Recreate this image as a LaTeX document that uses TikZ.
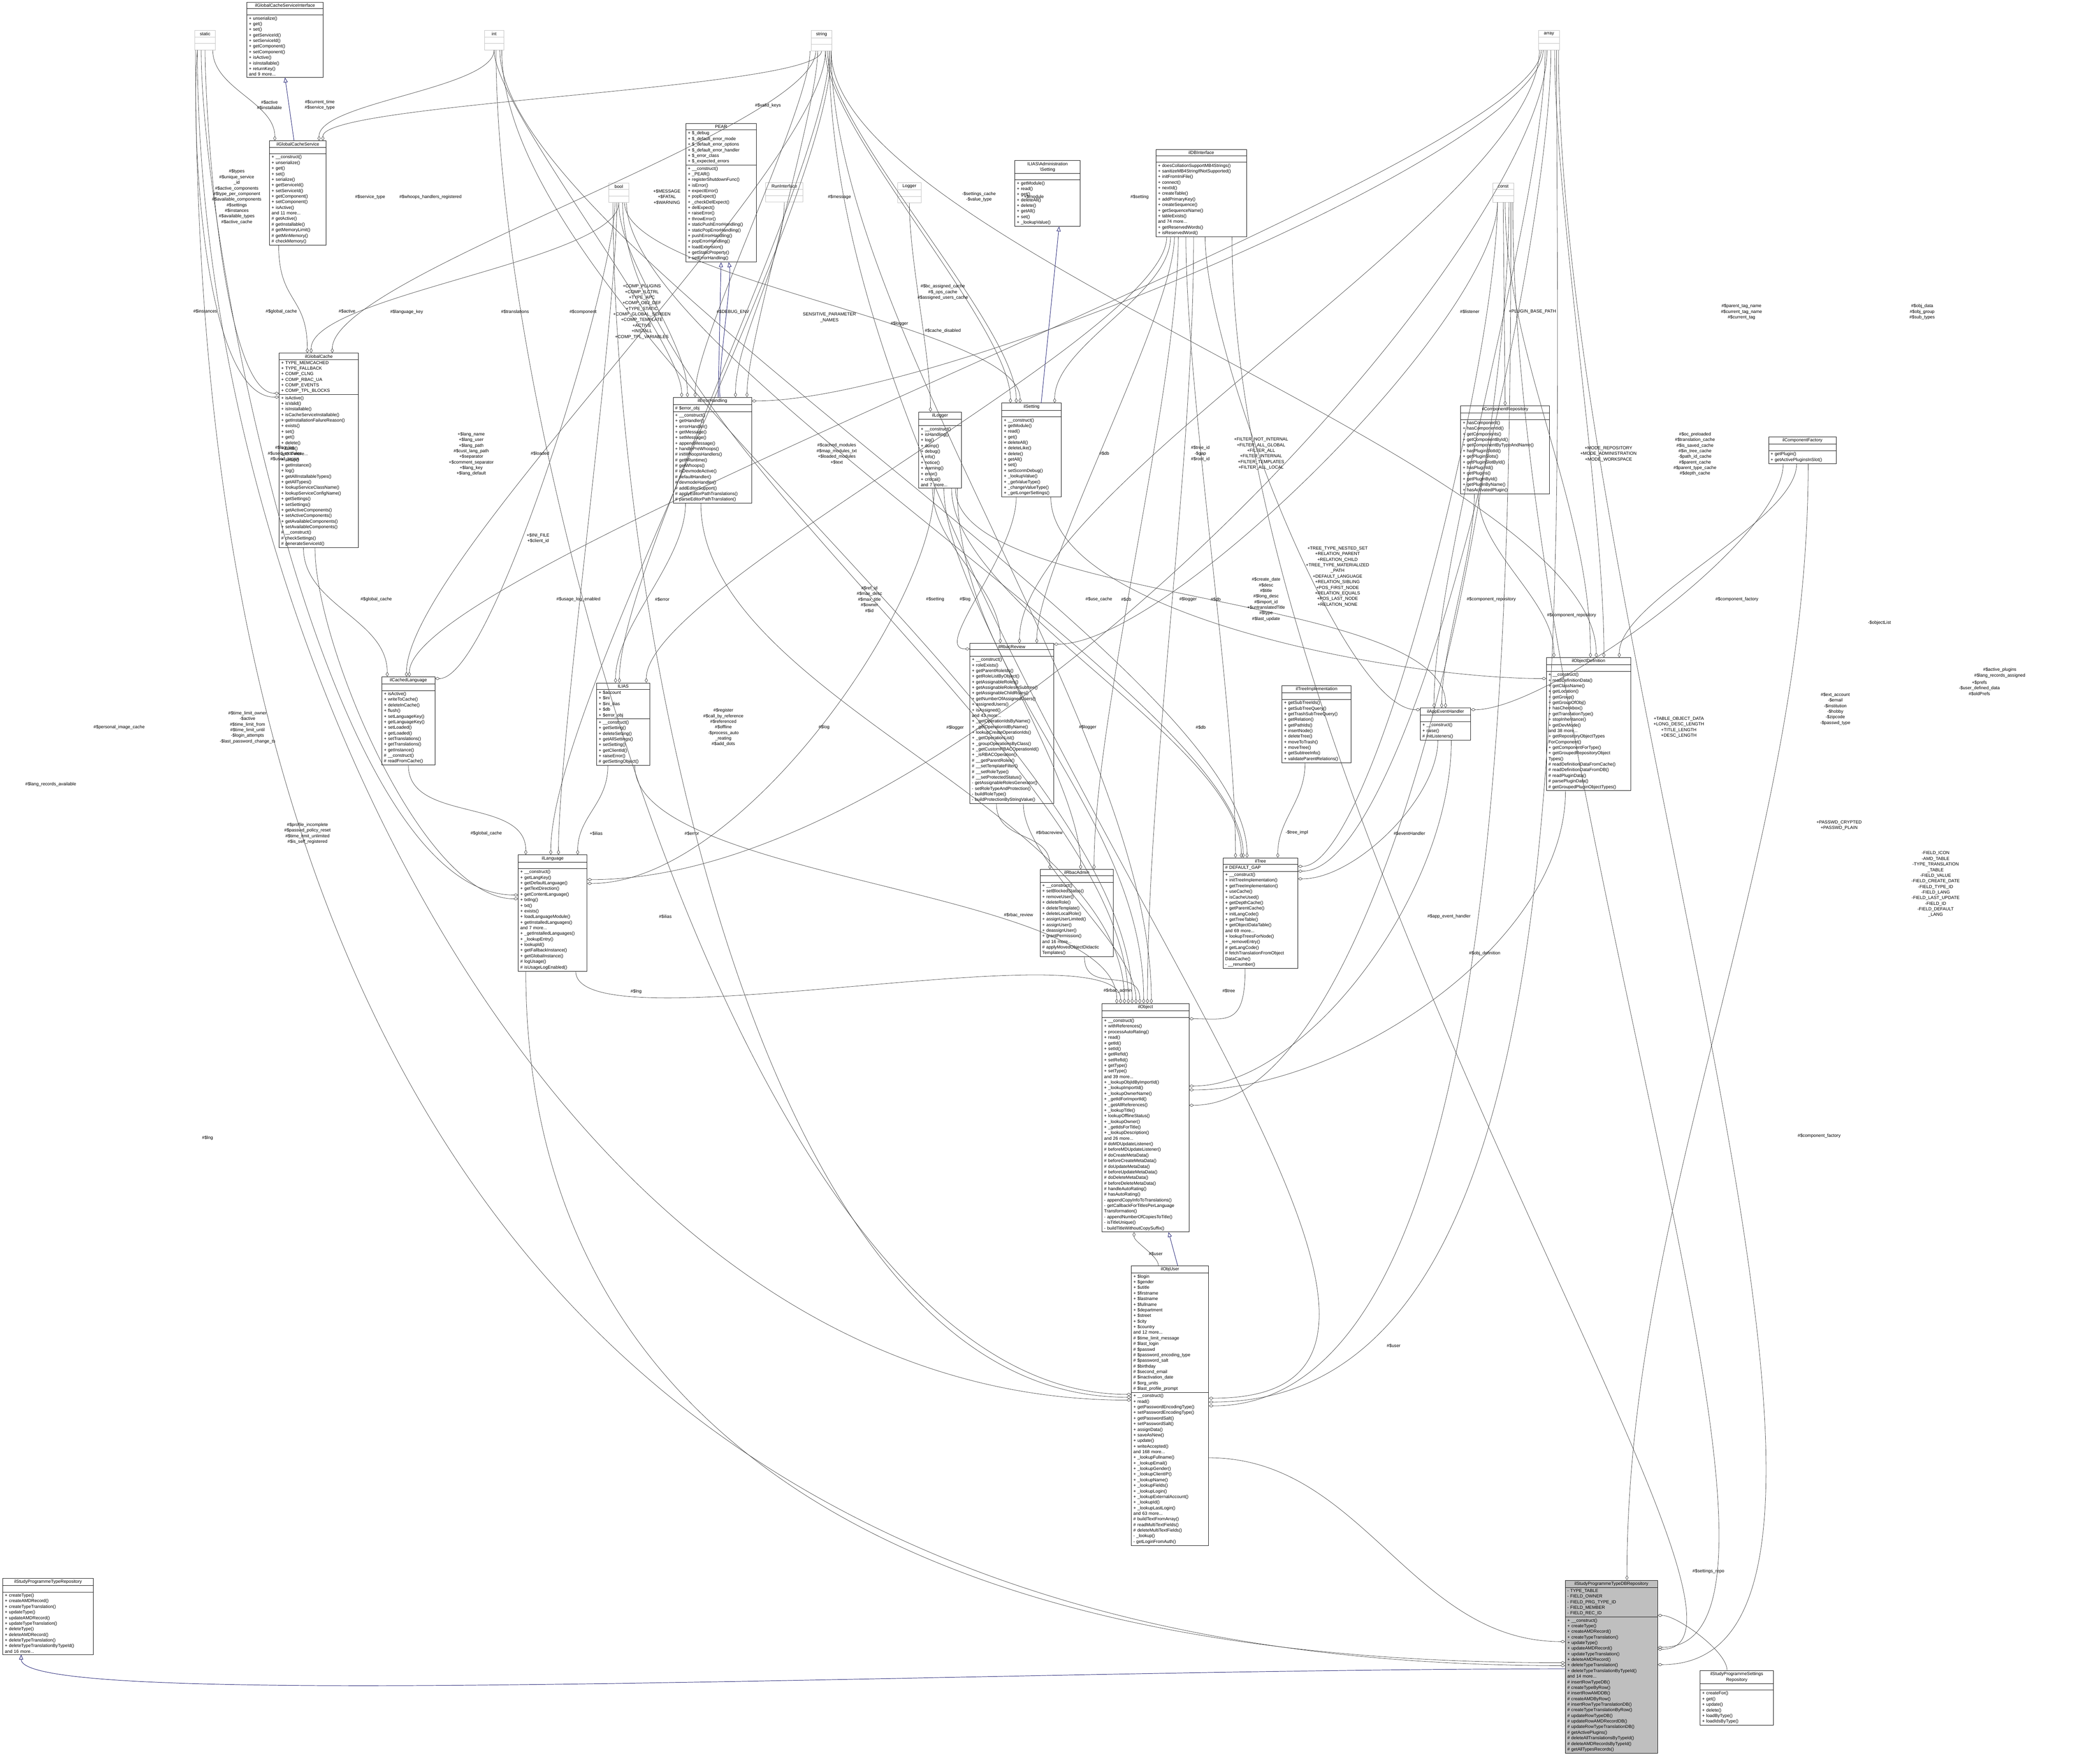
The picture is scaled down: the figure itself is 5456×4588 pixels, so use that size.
\documentclass[tikz,border=0pt]{standalone}
\usepackage{fontspec}
\setmainfont{Liberation Sans}
\usepackage{xcolor}
\usetikzlibrary{positioning, arrows.meta, shapes.multipart, calc}

\definecolor{inhcol}{RGB}{25,25,112}
\newcommand{\emptypart}{\rule{0pt}{5pt}}
% class box: name, x, y, text width, title, attributes, methods
\newcommand{\umlclass}[7]{\node[umlbox, text width=#4] (#1) at (#2,#3) {\centering #5\par\nodepart{two}#6\nodepart{three}#7};}
% grey type box: name, x, y, width, title
\newcommand{\umltype}[5]{\node[typebox, minimum width=#4] (#1) at (#2,#3) {#5\nodepart{two}\emptypart\nodepart{three}\emptypart};}

\begin{document}
\begin{tikzpicture}[
    x=0.02cm, y=-0.02cm,
    every node/.style={font=\fontsize{6.6}{8.3}\selectfont},
    umlbox/.style={rectangle split, rectangle split parts=3, draw=black, line width=0.6pt,
      fill=white, anchor=north west, align=left, inner xsep=3pt, inner ysep=2pt},
    typebox/.style={rectangle split, rectangle split parts=3, draw=black!25, line width=0.6pt,
      fill=white, anchor=north west, inner xsep=3pt, inner ysep=2pt},
    lbl/.style={align=center, inner sep=1pt},
    agg/.style={draw=black!75, line width=0.5pt, {Diamond[open,length=7pt,width=4.5pt]}-},
    inh/.style={draw=inhcol, line width=0.6pt, -{Triangle[open,length=7pt,width=6pt]}}
]
\useasboundingbox (0,0) rectangle (5456,4588);

% type boxes
\umltype{stat}{506}{79}{1.08cm}{static}
\umltype{tint}{1260}{79}{1.0cm}{int}
\umltype{tstring}{2110}{79}{1.08cm}{string}
\umltype{tarray}{4002}{79}{1.1cm}{array}
\umltype{tbool}{1583}{476}{1.06cm}{bool}
\umltype{tconst}{3883}{476}{1.1cm}{const}
\umltype{runif}{1991}{475}{1.96cm}{RunInterface}
\umltype{monolog}{2335}{475}{1.22cm}{Logger}

% classes
\umlclass{gcsinterface}{642}{5}{3.75cm}{ilGlobalCacheServiceInterface}{\emptypart}{+ unserialize()\\+ get()\\+ set()\\+ getServiceId()\\+ setServiceId()\\+ getComponent()\\+ setComponent()\\+ isActive()\\+ isInstallable()\\+ returnKey()\\and 9 more...}
\umlclass{gcservice}{701}{366}{2.73cm}{ilGlobalCacheService}{\emptypart}{+ \_\_construct()\\+ unserialize()\\+ get()\\+ set()\\+ serialize()\\+ getServiceId()\\+ setServiceId()\\+ getComponent()\\+ setComponent()\\+ isActive()\\and 11 more...\\\# getActive()\\\# getInstallable()\\\# getMemoryLimit()\\\# getMinMemory()\\\# checkMemory()}
\umlclass{gcache}{726}{918}{3.91cm}{ilGlobalCache}{+ TYPE\_MEMCACHED\\+ TYPE\_FALLBACK\\+ COMP\_CLNG\\+ COMP\_RBAC\_UA\\+ COMP\_EVENTS\\+ COMP\_TPL\_BLOCKS}{+ isActive()\\+ isValid()\\+ isInstallable()\\+ isCacheServiceInstallable()\\+ getInstallationFailureReason()\\+ exists()\\+ set()\\+ get()\\+ delete()\\+ flush()\\and 7 more...\\+ setup()\\+ getInstance()\\+ log()\\+ getAllInstallableTypes()\\+ getAllTypes()\\+ lookupServiceClassName()\\+ lookupServiceConfigName()\\+ getSettings()\\+ setSettings()\\+ getActiveComponents()\\+ setActiveComponents()\\+ getAvailableComponents()\\+ setAvailableComponents()\\\# \_\_construct()\\\# checkSettings()\\\# generateServiceId()}
\umlclass{pear}{1784}{321}{3.45cm}{PEAR}{+ \$\_debug\\+ \$\_default\_error\_mode\\+ \$\_default\_error\_options\\+ \$\_default\_error\_handler\\+ \$\_error\_class\\+ \$\_expected\_errors}{+ \_\_construct()\\+ \_PEAR()\\+ registerShutdownFunc()\\+ isError()\\+ expectError()\\+ popExpect()\\+ \_checkDelExpect()\\+ delExpect()\\+ raiseError()\\+ throwError()\\+ staticPushErrorHandling()\\+ staticPopErrorHandling()\\+ pushErrorHandling()\\+ popErrorHandling()\\+ loadExtension()\\+ getStaticProperty()\\+ setErrorHandling()}
\umlclass{admsetting}{2640}{417}{3.19cm}{ILIAS\textbackslash Administration\\\textbackslash Setting}{\emptypart}{+ getModule()\\+ read()\\+ get()\\+ deleteAll()\\+ delete()\\+ getAll()\\+ set()\\+ \_lookupValue()}
\umlclass{dbi}{3007}{388}{4.51cm}{ilDBInterface}{\emptypart}{+ doesCollationSupportMB4Strings()\\+ sanitizeMB4StringIfNotSupported()\\+ initFromIniFile()\\+ connect()\\+ nextId()\\+ createTable()\\+ addPrimaryKey()\\+ createSequence()\\+ getSequenceName()\\+ tableExists()\\and 74 more...\\+ getReservedWords()\\+ isReservedWord()}
\umlclass{comprepo}{3800}{1055}{4.41cm}{ilComponentRepository}{\emptypart}{+ hasComponent()\\+ hasComponentId()\\+ getComponents()\\+ getComponentById()\\+ getComponentByTypeAndName()\\+ hasPluginSlotId()\\+ getPluginSlots()\\+ getPluginSlotById()\\+ hasPluginId()\\+ getPlugins()\\+ getPluginById()\\+ getPluginByName()\\+ hasActivatedPlugin()}
\umlclass{compfactory}{4601}{1136}{3.31cm}{ilComponentFactory}{\emptypart}{+ getPlugin()\\+ getActivePluginsInSlot()}
\umlclass{errh}{1751}{1033}{3.87cm}{ilErrorHandling}{\# \$error\_obj}{+ \_\_construct()\\+ getHandler()\\+ errorHandler()\\+ getMessage()\\+ setMessage()\\+ appendMessage()\\+ handlePreWhoops()\\\# initWhoopsHandlers()\\\# getIlRuntime()\\\# getWhoops()\\\# isDevmodeActive()\\\# defaultHandler()\\\# devmodeHandler()\\\# addEditorSupport()\\\# applyEditorPathTranslations()\\\# parseEditorPathTranslation()}
\umlclass{logger}{2390}{1071}{2.0cm}{ilLogger}{\emptypart}{+ \_\_construct()\\+ isHandling()\\+ log()\\+ dump()\\+ debug()\\+ info()\\+ notice()\\+ warning()\\+ error()\\+ critical()\\and 7 more...}
\umlclass{setting}{2606}{1048}{2.89cm}{ilSetting}{\emptypart}{+ \_\_construct()\\+ getModule()\\+ read()\\+ get()\\+ deleteAll()\\+ deleteLike()\\+ delete()\\+ getAll()\\+ set()\\+ setScormDebug()\\+ \_lookupValue()\\+ \_getValueType()\\+ \_changeValueType()\\+ \_getLongerSettings()}
\umlclass{cachedlang}{993}{1760}{2.55cm}{ilCachedLanguage}{\emptypart}{+ isActive()\\+ writeToCache()\\+ deleteInCache()\\+ flush()\\+ setLanguageKey()\\+ getLanguageKey()\\+ setLoaded()\\+ getLoaded()\\+ setTranslations()\\+ getTranslations()\\+ getInstance()\\\# \_\_construct()\\\# readFromCache()}
\umlclass{ilias}{1552}{1776}{2.55cm}{ILIAS}{+ \$account\\+ \$ini\\+ \$ini\_ilias\\+ \$db\\+ \$error\_obj}{+ \_\_construct()\\+ getSetting()\\+ deleteSetting()\\+ getAllSettings()\\+ setSetting()\\+ getClientId()\\+ raiseError()\\\# getSettingObject()}
\umlclass{rbacreview}{2523}{1673}{4.15cm}{ilRbacReview}{\emptypart}{+ \_\_construct()\\+ roleExists()\\+ getParentRoleIds()\\+ getRoleListByObject()\\+ getAssignableRoles()\\+ getAssignableRolesInSubtree()\\+ getAssignableChildRoles()\\+ getNumberOfAssignedUsers()\\+ assignedUsers()\\+ isAssigned()\\and 43 more...\\+ \_getOperationIdsByName()\\+ \_getOperationIdByName()\\+ lookupCreateOperationIds()\\+ \_getOperationList()\\+ \_groupOperationsByClass()\\+ \_getCustomRBACOperationId()\\+ \_isRBACOperation()\\\# \_\_getParentRoles()\\\# \_\_setTemplateFilter()\\\# \_\_setRoleType()\\\# \_\_setProtectedStatus()\\- getAssignableRolesGenerator()\\- setRoleTypeAndProtection()\\- buildRoleType()\\- buildProtectionByStringValue()}
\umlclass{treeimpl}{3335}{1783}{3.39cm}{ilTreeImplementation}{\emptypart}{+ getSubTreeIds()\\+ getSubTreeQuery()\\+ getTrashSubTreeQuery()\\+ getRelation()\\+ getPathIds()\\+ insertNode()\\+ deleteTree()\\+ moveToTrash()\\+ moveTree()\\+ getSubtreeInfo()\\+ validateParentRelations()}
\umlclass{appevent}{3695}{1841}{2.41cm}{ilAppEventHandler}{\emptypart}{+ \_\_construct()\\+ raise()\\\# initListeners()}
\umlclass{objdef}{4023}{1710}{4.17cm}{ilObjectDefinition}{\emptypart}{+ \_\_construct()\\+ readDefinitionData()\\+ getClassName()\\+ getLocation()\\+ getGroup()\\+ getGroupOfObj()\\+ hasCheckbox()\\+ getTranslationType()\\+ stopInheritance()\\+ getDevMode()\\and 38 more...\\+ getRepositoryObjectTypes\\ForComponent()\\+ getComponentForType()\\+ getGroupedRepositoryObject\\Types()\\\# readDefinitionDataFromCache()\\\# readDefinitionDataFromDB()\\\# readPluginData()\\\# parsePluginData()\\\# getGroupedPluginObjectTypes()}
\umlclass{tree}{3182}{2231}{3.67cm}{ilTree}{\# DEFAULT\_GAP}{+ \_\_construct()\\+ initTreeImplementation()\\+ getTreeImplementation()\\+ useCache()\\+ isCacheUsed()\\+ getDepthCache()\\+ getParentCache()\\+ initLangCode()\\+ getTreeTable()\\+ getObjectDataTable()\\and 69 more...\\+ lookupTreesForNode()\\+ \_removeEntry()\\\# getLangCode()\\\# fetchTranslationFromObject\\DataCache()\\- \_\_renumber()}
\umlclass{rbacadmin}{2706}{2261}{3.59cm}{ilRbacAdmin}{\emptypart}{+ \_\_construct()\\+ setBlockedStatus()\\+ removeUser()\\+ deleteRole()\\+ deleteTemplate()\\+ deleteLocalRole()\\+ assignUserLimited()\\+ assignUser()\\+ deassignUser()\\+ grantPermission()\\and 16 more...\\\# applyMovedObjectDidactic\\Templates()}
\umlclass{language}{1348}{2223}{3.37cm}{ilLanguage}{\emptypart}{+ \_\_construct()\\+ getLangKey()\\+ getDefaultLanguage()\\+ getTextDirection()\\+ getContentLanguage()\\+ txtlng()\\+ txt()\\+ exists()\\+ loadLanguageModule()\\+ getInstalledLanguages()\\and 7 more...\\+ \_getInstalledLanguages()\\+ \_lookupEntry()\\+ lookupId()\\+ getFallbackInstance()\\+ getGlobalInstance()\\\# logUsage()\\\# isUsageLogEnabled()}
\umlclass{object}{2867}{2610}{4.31cm}{ilObject}{\emptypart}{+ \_\_construct()\\+ withReferences()\\+ processAutoRating()\\+ read()\\+ getId()\\+ setId()\\+ getRefId()\\+ setRefId()\\+ getType()\\+ setType()\\and 39 more...\\+ \_lookupObjIdByImportId()\\+ \_lookupImportId()\\+ \_lookupOwnerName()\\+ \_getIdForImportId()\\+ \_getAllReferences()\\+ \_lookupTitle()\\+ lookupOfflineStatus()\\+ \_lookupOwner()\\+ \_getIdsForTitle()\\+ \_lookupDescription()\\and 26 more...\\\# doMDUpdateListener()\\\# beforeMDUpdateListener()\\\# doCreateMetaData()\\\# beforeCreateMetaData()\\\# doUpdateMetaData()\\\# beforeUpdateMetaData()\\\# doDeleteMetaData()\\\# beforeDeleteMetaData()\\\# handleAutoRating()\\\# hasAutoRating()\\- appendCopyInfoToTranslations()\\- getCallbackForTitlesPerLanguage\\Transformation()\\- appendNumberOfCopiesToTitle()\\- isTitleUnique()\\- buildTitleWithoutCopySuffix()}
\umlclass{objuser}{2943}{3292}{3.81cm}{ilObjUser}{+ \$login\\+ \$gender\\+ \$utitle\\+ \$firstname\\+ \$lastname\\+ \$fullname\\+ \$department\\+ \$street\\+ \$city\\+ \$country\\and 12 more...\\\# \$time\_limit\_message\\\# \$last\_login\\\# \$passwd\\\# \$password\_encoding\_type\\\# \$password\_salt\\\# \$birthday\\\# \$second\_email\\\# \$inactivation\_date\\\# \$org\_units\\\# \$last\_profile\_prompt}{+ \_\_construct()\\+ read()\\+ getPasswordEncodingType()\\+ setPasswordEncodingType()\\+ getPasswordSalt()\\+ setPasswordSalt()\\+ assignData()\\+ saveAsNew()\\+ update()\\+ writeAccepted()\\and 168 more...\\+ \_lookupFullname()\\+ \_lookupEmail()\\+ \_lookupGender()\\+ \_lookupClientIP()\\+ \_lookupName()\\+ \_lookupFields()\\+ \_lookupLogin()\\+ \_lookupExternalAccount()\\+ \_lookupId()\\+ \_lookupLastLogin()\\and 63 more...\\\# buildTextFromArray()\\\# readMultiTextFields()\\\# deleteMultiTextFields()\\- \_lookup()\\- getLoginFromAuth()}
\umlclass{sptype}{7}{4105}{4.49cm}{ilStudyProgrammeTypeRepository}{\emptypart}{+ createType()\\+ createAMDRecord()\\+ createTypeTranslation()\\+ updateType()\\+ updateAMDRecord()\\+ updateTypeTranslation()\\+ deleteType()\\+ deleteAMDRecord()\\+ deleteTypeTranslation()\\+ deleteTypeTranslationByTypeId()\\and 16 more...}
\node[umlbox, text width=4.59cm, fill=black!25] (spdb) at (4072,4110) {\centering ilStudyProgrammeTypeDBRepository\par\nodepart{two}- TYPE\_TABLE\\- FIELD\_OWNER\\- FIELD\_PRG\_TYPE\_ID\\- FIELD\_MEMBER\\- FIELD\_REC\_ID\nodepart{three}+ \_\_construct()\\+ createType()\\+ createAMDRecord()\\+ createTypeTranslation()\\+ updateType()\\+ updateAMDRecord()\\+ updateTypeTranslation()\\+ deleteAMDRecord()\\+ deleteTypeTranslation()\\+ deleteTypeTranslationByTypeId()\\and 14 more...\\\# insertRowTypeDB()\\\# createTypeByRow()\\\# insertRowAMDDB()\\\# createAMDByRow()\\\# insertRowTypeTranslationDB()\\\# createTypeTranslationByRow()\\\# updateRowTypeDB()\\\# updateRowAMDRecordDB()\\\# updateRowTypeTranslationDB()\\\# getActivePlugins()\\\# deleteAllTranslationsByTypeId()\\\# deleteAMDRecordsByTypeId()\\\# getAllTypesRecords()};
\umlclass{spsettings}{4423}{4345}{3.59cm}{ilStudyProgrammeSettings\\Repository}{\emptypart}{+ createFor()\\+ get()\\+ update()\\+ delete()\\+ loadByType()\\+ loadIdsByType()}

% inheritance
\draw[inh] ([xshift=-0.2cm]gcservice.north) -- (gcsinterface.south);
\draw[inh] ([xshift=0.3cm]errh.north) -- (pear.south);
\draw[inh] ([xshift=0.4cm]errh.north) .. controls +(100:1cm) and +(-80:1cm) .. ([xshift=0.4cm]pear.south);
\draw[inh] ([xshift=0.5cm]setting.north) -- ([xshift=0.6cm]admsetting.south);
\draw[inh] ([xshift=0.4cm]objuser.north) -- ([xshift=1.2cm]object.south);
\draw[inh] ([yshift=-4.62cm]spdb.north west) .. controls +(180:30cm) and +(-90:3cm) .. ([xshift=-1.4cm]sptype.south);

% members of ilGlobalCacheService
\draw[agg] ([xshift=-1.2cm]gcservice.north) .. controls +(90:2cm) and +(-90:2cm) .. ([xshift=0.4cm]stat.south);
\draw[agg] ([xshift=1.1cm]gcservice.north) .. controls +(90:2cm) and +(-90:2cm) .. (tint.south);
\draw[agg] ([xshift=1.3cm]gcservice.north) .. controls +(90:2cm) and +(-90:2cm) .. (tstring.south);
\node[lbl] (l1) at (701,273) {\#\$active\\\#\$installable};
\node[lbl] (l2) at (832,273) {\#\$current\_time\\\#\$service\_type};

% members of ilGlobalCache
\draw[agg] ([yshift=-2.1cm]gcache.north west) .. controls +(180:3cm) and +(-90:3cm) .. (stat.south);
\draw[agg] ([yshift=-2.3cm]gcache.north west) .. controls +(180:4cm) and +(-95:4cm) .. ([xshift=-0.4cm]stat.south);
\draw[agg] ([xshift=-0.6cm]gcache.north) .. controls +(90:3cm) and +(-90:3cm) .. ([xshift=-1cm]gcservice.south);
\draw[agg] ([xshift=-0.4cm]gcache.north) .. controls +(90:3cm) and +(-90:3cm) .. (tbool.south);
\draw[agg] ([xshift=0.7cm]gcache.north) .. controls +(90:4cm) and +(-90:4cm) .. ([xshift=-0.3cm]tstring.south);
\node[lbl] (l3) at (616,512) {\#\$types\\\#\$unique\_service\\\_id\\\#\$active\_components\\\#\$type\_per\_component\\\#\$available\_components\\\#\$settings\\\#\$instances\\\#\$available\_types\\\#\$active\_cache};
\node[lbl] (l4) at (534,810) {\#\$instances};
\node[lbl] (l5) at (732,810) {\#\$global\_cache};
\node[lbl] (l6) at (903,810) {\#\$active};
\node[lbl] (l7) at (963,512) {\#\$service\_type};

% members of ilErrorHandling
\draw[agg] ([xshift=-1.6cm]errh.north) .. controls +(90:3cm) and +(-90:3cm) .. (tint.south);
\draw[agg] ([xshift=-1.3cm]errh.north) .. controls +(90:3cm) and +(-90:3cm) .. (tbool.south);
\draw[agg] ([xshift=-0.9cm]errh.north) .. controls +(90:3cm) and +(-90:3cm) .. ([xshift=-0.6cm]tstring.south);
\draw[agg] ([xshift=1.2cm]errh.north) .. controls +(90:3cm) and +(-90:3cm) .. (runif.south);
\draw[agg] ([xshift=1.8cm]errh.north) .. controls +(90:3cm) and +(-90:3cm) .. ([xshift=-0.2cm]tstring.south);
\draw[agg] ([yshift=-0.2cm]errh.north east) .. controls +(0:10cm) and +(-90:5cm) .. ([xshift=-0.3cm]tarray.south);
\node[lbl] (l8) at (1735,512) {+\$MESSAGE\\+\$FATAL\\+\$WARNING};
\node[lbl] (l9) at (1120,512) {\#\$whoops\_handlers\_registered};
\node[lbl] (l10) at (1998,275) {\#\$valid\_keys};
\node[lbl] (l11) at (2184,512) {\#\$message};
\node[lbl] (l12) at (1907,811) {\#\$DEBUG\_ENV};
\node[lbl] (l13) at (2158,826) {SENSITIVE\_PARAMETER\\\_NAMES};
\node[lbl] (l14) at (1670,811) {+COMP\_PLUGINS\\+COMP\_ILCTRL\\+TYPE\_APC\\+COMP\_OBJ\_DEF\\+TYPE\_STATIC\\+COMP\_GLOBAL\_SCREEN\\+COMP\_TEMPLATE\\+ACTIVE\\+INSTALL\\+COMP\_TPL\_VARIABLES};

% members of ilLogger and ilSetting
\draw[agg] ([xshift=-0.5cm]logger.north) .. controls +(90:3cm) and +(-90:3cm) .. (monolog.south);
\draw[agg] ([xshift=-1.1cm]setting.north) .. controls +(90:4cm) and +(-90:4cm) .. ([xshift=0.2cm]tstring.south);
\draw[agg] ([xshift=-0.8cm]setting.north) .. controls +(90:4cm) and +(-90:4cm) .. ([xshift=0.3cm]tstring.south);
\draw[agg] ([xshift=-0.6cm]setting.north) .. controls +(90:4cm) and +(-90:4cm) .. ([xshift=0.3cm]tbool.south);
\draw[agg] ([xshift=1.2cm]setting.north) .. controls +(90:3cm) and +(-90:3cm) .. ([xshift=-1.6cm]dbi.south);
\node[lbl] (l15) at (2340,842) {\#\$logger};
\node[lbl] (l16) at (2547,512) {-\$settings\_cache\\-\$value\_type};
\node[lbl] (l17) at (2690,512) {+\$module};
\node[lbl] (l18) at (2965,512) {\#\$setting};
\node[lbl] (l19) at (2453,860) {\#\$cache\_disabled};
\node[lbl] (l20) at (2873,1180) {\#\$db};

% members of ilCachedLanguage and ILIAS
\draw[agg] ([xshift=-1.1cm]cachedlang.north) .. controls +(90:3cm) and +(-90:3cm) .. ([xshift=-0.8cm]gcache.south);
\draw[agg] ([xshift=-0.1cm]cachedlang.north) .. controls +(90:6cm) and +(-90:6cm) .. ([xshift=0.2cm]tstring.south);
\draw[agg] ([xshift=0.05cm]cachedlang.north) .. controls +(90:6cm) and +(-90:6cm) .. ([xshift=-0.4cm]tarray.south);
\draw[agg] ([yshift=-0.1cm]cachedlang.north east) .. controls +(0:3cm) and +(-90:4cm) .. ([xshift=-0.2cm]tbool.south);
\draw[agg] ([xshift=-0.4cm]ilias.north) .. controls +(90:3cm) and +(-90:3cm) .. ([xshift=-1.4cm]errh.south);
\draw[agg] ([xshift=-0.2cm]ilias.north) .. controls +(90:6cm) and +(-90:6cm) .. ([xshift=0.4cm]tstring.south);
\draw[agg] ([xshift=1.2cm]ilias.north) .. controls +(90:5cm) and +(-90:5cm) .. ([xshift=-1.8cm]dbi.south);
\node[lbl] (l21) at (1058,811) {\#\$language\_key};
\node[lbl] (l22) at (1340,811) {\#\$translations};
\node[lbl] (l23) at (1517,811) {\#\$component};
\node[lbl] (l24) at (1405,1180) {\#\$loaded};
\node[lbl] (l25) at (1400,1400) {+\$INI\_FILE\\+\$client\_id};
\node[lbl] (l26) at (979,1559) {\#\$global\_cache};
\node[lbl] (l27) at (1723,1559) {\#\$error};

% members of ilLanguage
\draw[agg] ([xshift=-1.4cm]language.north) .. controls +(90:3cm) and +(-90:3cm) .. (cachedlang.south);
\draw[agg] ([xshift=-0.1cm]language.north) .. controls +(90:8cm) and +(-90:8cm) .. ([xshift=0.5cm]tstring.south);
\draw[agg] ([xshift=0.3cm]language.north) .. controls +(90:6cm) and +(-90:6cm) .. ([xshift=-0.1cm]tbool.south);
\draw[agg] ([xshift=1.3cm]language.north) .. controls +(90:2cm) and +(-90:2cm) .. ([xshift=-0.8cm]ilias.south);
\draw[agg] ([yshift=-1.5cm]language.north east) .. controls +(0:8cm) and +(-90:6cm) .. ([xshift=-0.3cm]logger.south);
\draw[agg] ([yshift=-2.1cm]language.north west) .. controls +(180:10cm) and +(-90:10cm) .. ([xshift=-0.2cm]stat.south);
\draw[agg] ([yshift=-2.3cm]language.north west) .. controls +(180:5cm) and +(-90:5cm) .. ([xshift=-0.2cm]gcache.south);
\draw[agg] ([yshift=-1.3cm]language.north east) .. controls +(0:20cm) and +(-90:10cm) .. ([xshift=-0.1cm]tarray.south);
\node[lbl] (l28) at (1226,1181) {+\$lang\_name\\+\$lang\_user\\+\$lang\_path\\\#\$cust\_lang\_path\\+\$separator\\+\$comment\_separator\\+\$lang\_key\\+\$lang\_default};
\node[lbl] (l29) at (741,1180) {\#\$lng\_log\\\#\$used\_modules\\\#\$used\_topics};
\node[lbl] (l30) at (1505,1559) {\#\$usage\_log\_enabled};
\node[lbl] (l31) at (2177,1180) {\#\$cached\_modules\\\#\$map\_modules\_txt\\+\$loaded\_modules\\+\$text};
\node[lbl] (l32) at (2144,1892) {\#\$log};
\node[lbl] (l33) at (1265,2168) {\#\$global\_cache};
\node[lbl] (l34) at (1551,2168) {+\$ilias};

% members of ilRbacReview and ilRbacAdmin
\draw[agg] ([yshift=-0.3cm]rbacreview.north west) .. controls +(180:2cm) and +(-90:3cm) .. ([xshift=-0.8cm]setting.south);
\draw[agg] ([xshift=-0.6cm]rbacreview.north) .. controls +(90:3cm) and +(-90:3cm) .. ([xshift=-0.4cm]logger.south);
\draw[agg] ([xshift=0.4cm]rbacreview.north) .. controls +(90:8cm) and +(-90:8cm) .. ([xshift=-0.5cm]tarray.south);
\draw[agg] ([xshift=1.3cm]rbacreview.north) .. controls +(90:4cm) and +(-90:4cm) .. ([xshift=-1.4cm]dbi.south);
\draw[agg] ([yshift=-0.05cm]rbacreview.north east) .. controls +(0:6cm) and +(-90:6cm) .. ([xshift=-0.3cm]tconst.south);
\draw[agg] ([xshift=-1.4cm]rbacadmin.north) .. controls +(90:2cm) and +(-90:2cm) .. ([xshift=-0.8cm]rbacreview.south);
\draw[agg] ([xshift=0.2cm]rbacadmin.north) .. controls +(90:5cm) and +(-90:5cm) .. ([xshift=0.2cm]logger.south);
\draw[agg] ([xshift=0.9cm]rbacadmin.north) .. controls +(90:8cm) and +(-90:8cm) .. ([xshift=-1.2cm]dbi.south);
\node[lbl] (l35) at (2453,760) {\#\$bc\_assigned\_cache\\\#\$\_ops\_cache\\\#\$assigned\_users\_cache};
\node[lbl] (l36) at (3281,1180) {+FILTER\_NOT\_INTERNAL\\+FILTER\_ALL\_GLOBAL\\+FILTER\_ALL\\+FILTER\_INTERNAL\\+FILTER\_TEMPLATES\\+FILTER\_ALL\_LOCAL};
\node[lbl] (l37) at (2433,1559) {\#\$setting};
\node[lbl] (l38) at (2511,1559) {\#\$log};
\node[lbl] (l39) at (2930,1559) {\#\$db};
\node[lbl] (l40) at (2485,1893) {\#\$logger};
\node[lbl] (l41) at (2730,2166) {\#\$rbacreview};

% members of ilTree
\draw[agg] ([xshift=-1.3cm]tree.north) .. controls +(90:8cm) and +(-90:8cm) .. ([xshift=-0.8cm]dbi.south);
\draw[agg] ([xshift=-1.0cm]tree.north) .. controls +(90:6cm) and +(-90:6cm) .. ([xshift=0.6cm]logger.south);
\draw[agg] ([xshift=-0.9cm]tree.north) .. controls +(90:8cm) and +(-90:8cm) .. ([xshift=0.4cm]tbool.south);
\draw[agg] ([xshift=-0.7cm]tree.north) .. controls +(90:10cm) and +(-90:10cm) .. ([xshift=0.3cm]tint.south);
\draw[agg] ([xshift=0.9cm]tree.north) .. controls +(90:2cm) and +(-90:2cm) .. ([xshift=-0.6cm]treeimpl.south);
\draw[agg] ([yshift=-0.45cm]tree.north east) .. controls +(0:4cm) and +(-90:8cm) .. ([xshift=-0.3cm]tconst.south);
\draw[agg] ([yshift=-0.7cm]tree.north east) .. controls +(0:6cm) and +(-90:10cm) .. ([xshift=0.1cm]tarray.south);
\draw[agg] ([yshift=-1.1cm]tree.north east) .. controls +(0:3cm) and +(-90:3cm) .. ([xshift=-0.4cm]appevent.south);
\node[lbl] (l42) at (2859,1559) {\#\$use\_cache};
\node[lbl] (l43) at (3091,1559) {\#\$logger};
\node[lbl] (l44) at (3163,1559) {\#\$db};
\node[lbl] (l45) at (3123,1180) {\#\$tree\_id\\-\$gap\\\#\$root\_id};
\node[lbl] (l46) at (3480,1500) {+TREE\_TYPE\_NESTED\_SET\\+RELATION\_PARENT\\+RELATION\_CHILD\\+TREE\_TYPE\_MATERIALIZED\\\_PATH\\+DEFAULT\_LANGUAGE\\+RELATION\_SIBLING\\+POS\_FIRST\_NODE\\+RELATION\_EQUALS\\+POS\_LAST\_NODE\\+RELATION\_NONE};
\node[lbl] (l47) at (4410,1181) {\#\$oc\_preloaded\\\#\$translation\_cache\\\#\$is\_saved\_cache\\\#\$in\_tree\_cache\\-\$path\_id\_cache\\\#\$parent\_cache\\\#\$parent\_type\_cache\\\#\$depth\_cache};
\node[lbl] (l48) at (3374,2166) {-\$tree\_impl};
\node[lbl] (l49) at (3667,2168) {\#\$eventHandler};

% members of ilAppEventHandler, ilComponentRepository, ilObjectDefinition
\draw[agg] ([xshift=-0.6cm]appevent.north) .. controls +(90:8cm) and +(-90:8cm) .. ([xshift=-0.2cm]tarray.south);
\draw[agg] ([xshift=-0.2cm]appevent.north) .. controls +(90:3cm) and +(-90:3cm) .. ([xshift=-1.6cm]comprepo.south);
\draw[agg] ([xshift=0cm]appevent.north) .. controls +(90:6cm) and +(-90:6cm) .. ([xshift=0.8cm]logger.south);
\draw[agg] ([yshift=-0.1cm]appevent.north west) .. controls +(180:4cm) and +(-90:6cm) .. ([xshift=0.2cm]dbi.south);
\draw[agg] ([yshift=-0.1cm]appevent.north east) .. controls +(0:4cm) and +(-90:4cm) .. ([xshift=-1cm]compfactory.south);
\draw[agg] (comprepo.north) -- (tconst.south);
\draw[agg] ([xshift=-1.8cm]objdef.north) .. controls +(90:3cm) and +(-90:3cm) .. ([xshift=-1.4cm]comprepo.south);
\draw[agg] ([xshift=0.1cm]objdef.north) .. controls +(90:8cm) and +(-90:8cm) .. ([xshift=0.1cm]tconst.south);
\draw[agg] ([xshift=0.4cm]objdef.north) .. controls +(90:10cm) and +(-90:10cm) .. ([xshift=0.5cm]tstring.south);
\draw[agg] ([xshift=0.8cm]objdef.north) .. controls +(90:8cm) and +(-90:8cm) .. ([xshift=0.3cm]tarray.south);
\draw[agg] ([xshift=1.6cm]objdef.north) .. controls +(90:3cm) and +(-90:3cm) .. ([xshift=-0.3cm]compfactory.south);
\draw[agg] ([yshift=-1.1cm]objdef.north west) .. controls +(180:8cm) and +(-90:6cm) .. ([xshift=1cm]setting.south);
\node[lbl] (l50) at (3824,811) {\#\$listener};
\node[lbl] (l51) at (3987,811) {+PLUGIN\_BASE\_PATH};
\node[lbl] (l52) at (4531,811) {\#\$parent\_tag\_name\\\#\$current\_tag\_name\\\#\$current\_tag};
\node[lbl] (l53) at (5001,811) {\#\$obj\_data\\\#\$obj\_group\\\#\$sub\_types};
\node[lbl] (l54) at (4185,1181) {+MODE\_REPOSITORY\\+MODE\_ADMINISTRATION\\+MODE\_WORKSPACE};
\node[lbl] (l55) at (3880,1559) {\#\$component\_repository};
\node[lbl] (l56) at (4089,1600) {\#\$component\_repository};
\node[lbl] (l57) at (4519,1559) {\#\$component\_factory};

% members of ilObject
\draw[agg] ([xshift=-1.5cm]object.north) .. controls +(90:6cm) and +(-90:6cm) .. ([xshift=0.6cm]ilias.south);
\draw[agg] ([xshift=-1.3cm]object.north) .. controls +(90:4cm) and +(-90:4cm) .. ([xshift=1.2cm]language.south);
\draw[agg] ([xshift=-1.1cm]object.north) .. controls +(90:10cm) and +(-90:10cm) .. ([xshift=-0.6cm]errh.south);
\draw[agg] ([xshift=-0.9cm]object.north) .. controls +(90:12cm) and +(-90:12cm) .. ([xshift=0.2cm]tbool.south);
\draw[agg] ([xshift=-0.7cm]object.north) .. controls +(90:14cm) and +(-90:14cm) .. ([xshift=0.4cm]tint.south);
\draw[agg] ([xshift=-0.5cm]object.north) .. controls +(90:3cm) and +(-90:3cm) .. ([xshift=0.6cm]rbacreview.south);
\draw[agg] ([xshift=-0.3cm]object.north) .. controls +(90:2cm) and +(-90:2cm) .. ([xshift=0.4cm]rbacadmin.south);
\draw[agg] ([xshift=-0.1cm]object.north) .. controls +(90:10cm) and +(-90:10cm) .. ([xshift=0.9cm]logger.south);
\draw[agg] ([xshift=0.1cm]object.north) .. controls +(90:12cm) and +(-90:12cm) .. ([xshift=-0.4cm]dbi.south);
\draw[agg] ([xshift=0.3cm]object.north) .. controls +(90:14cm) and +(-90:14cm) .. ([xshift=0.5cm]tstring.south);
\draw[agg] ([yshift=-0.8cm]object.north east) .. controls +(0:2cm) and +(-90:3cm) .. ([xshift=-0.8cm]tree.south);
\draw[agg] ([yshift=-4.3cm]object.north east) .. controls +(0:6cm) and +(-90:8cm) .. ([xshift=0.3cm]appevent.south);
\draw[agg] ([yshift=-4.5cm]object.north east) .. controls +(0:8cm) and +(-90:8cm) .. ([xshift=-1.2cm]objdef.south);
\draw[agg] ([yshift=-5.3cm]object.north east) .. controls +(0:10cm) and +(-90:14cm) .. ([xshift=0.3cm]tconst.south);
\draw[agg] ([xshift=-0.6cm]object.south) .. controls +(-90:0.5cm) and +(90:0.5cm) .. ([xshift=-0.6cm]objuser.north);
\node[lbl] (l58) at (3294,1559) {\#\$create\_date\\\#\$desc\\\#\$title\\\#\$long\_desc\\\#\$import\_id\\+\$untranslatedTitle\\\#\$type\\\#\$last\_update};
\node[lbl] (l59) at (2262,1559) {\#\$ref\_id\\\#\$max\_desc\\\#\$max\_title\\\#\$owner\\\#\$id};
\node[lbl] (l60) at (1882,1892) {\#\$register\\\#\$call\_by\_reference\\\#\$referenced\\\#\$offline\\-\$process\_auto\\\_reating\\\#\$add\_dots};
\node[lbl] (l61) at (1800,2168) {\#\$error};
\node[lbl] (l62) at (1731,2384) {\#\$ilias};
\node[lbl] (l63) at (1655,2579) {\#\$lng};
\node[lbl] (l64) at (2830,1892) {\#\$logger};
\node[lbl] (l65) at (3124,1892) {\#\$db};
\node[lbl] (l66) at (2650,2381) {\#\$rbac\_review};
\node[lbl] (l67) at (2908,2577) {\#\$rbac\_admin};
\node[lbl] (l68) at (3197,2577) {\#\$tree};
\node[lbl] (l69) at (3770,2384) {\#\$app\_event\_handler};
\node[lbl] (l70) at (3863,2480) {\#\$obj\_definition};
\node[lbl] (l71) at (4368,1892) {+TABLE\_OBJECT\_DATA\\+LONG\_DESC\_LENGTH\\+TITLE\_LENGTH\\+DESC\_LENGTH};
\node[lbl] (l72) at (3007,3262) {\#\$user};

% members of ilObjUser
\draw[agg] ([yshift=-6.7cm]objuser.north west) .. controls +(180:20cm) and +(-90:20cm) .. ([xshift=0.1cm]tint.south);
\draw[agg] ([yshift=-6.85cm]objuser.north west) .. controls +(180:20cm) and +(-90:20cm) .. ([xshift=-0.3cm]tbool.south);
\draw[agg] ([yshift=-7.0cm]objuser.north west) .. controls +(180:30cm) and +(-90:30cm) .. ([xshift=-0.4cm]stat.south);
\draw[agg] ([yshift=-6.9cm]objuser.north east) .. controls +(0:20cm) and +(-90:30cm) .. ([xshift=0.4cm]tstring.south);
\draw[agg] ([yshift=-7.1cm]objuser.north east) .. controls +(0:20cm) and +(-90:30cm) .. ([xshift=0.4cm]tarray.south);
\draw[agg] ([yshift=-7.3cm]objuser.north east) .. controls +(0:15cm) and +(-90:25cm) .. ([xshift=0.4cm]tconst.south);
\node[lbl] (l73) at (644,1892) {\#\$time\_limit\_owner\\-\$active\\\#\$time\_limit\_from\\\#\$time\_limit\_until\\-\$login\_attempts\\-\$last\_password\_change\_ts};
\node[lbl] (l74) at (800,2168) {\#\$profile\_incomplete\\\#\$passwd\_policy\_reset\\\#\$time\_limit\_unlimited\\\#\$is\_self\_registered};
\node[lbl] (l75) at (310,1892) {\#\$personal\_image\_cache};
\node[lbl] (l76) at (4775,1844) {\#\$ext\_account\\-\$email\\-\$institution\\-\$hobby\\-\$zipcode\\-\$passwd\_type};
\node[lbl] (l77) at (5150,1790) {+\$prefs\\-\$user\_defined\_data\\\#\$oldPrefs};
\node[lbl] (l78) at (4785,2147) {+PASSWD\_CRYPTED\\+PASSWD\_PLAIN};

% members of ilStudyProgrammeTypeDBRepository
\draw[agg] ([xshift=3.22cm]spdb.north west) .. controls +(90:20cm) and +(-90:20cm) .. ([xshift=0.3cm]compfactory.south);
\draw[agg] ([yshift=-1.84cm]spdb.north east) .. controls +(0:1cm) and +(90:1cm) .. ([xshift=-0.5cm]spsettings.north);
\draw[agg] ([yshift=-3.5cm]spdb.north east) .. controls +(0:10cm) and +(-90:30cm) .. ([xshift=0.5cm]tconst.south);
\draw[agg] ([yshift=-3.6cm]spdb.north east) .. controls +(0:8cm) and +(-90:30cm) .. ([xshift=1.6cm]dbi.south);
\draw[agg] ([yshift=-4.4cm]spdb.north east) .. controls +(0:15cm) and +(-90:30cm) .. ([xshift=0.5cm]tarray.south);
\draw[agg] ([yshift=-3.2cm]spdb.north west) .. controls +(180:8cm) and +(0:8cm) .. ([yshift=-10cm]objuser.north east);
\draw[agg] ([yshift=-4.3cm]spdb.north west) .. controls +(180:40cm) and +(-90:20cm) .. ([xshift=-1.4cm]language.south);
\draw[agg] ([yshift=-4.45cm]spdb.north west) .. controls +(180:60cm) and +(-90:40cm) .. ([xshift=-0.5cm]stat.south);
\node[lbl] (l79) at (4733,2955) {\#\$component\_factory};
\node[lbl] (l80) at (4445,4087) {\#\$settings\_repo};
\node[lbl] (l81) at (5036,2300) {-FIELD\_ICON\\-AMD\_TABLE\\-TYPE\_TRANSLATION\\\_TABLE\\-FIELD\_VALUE\\-FIELD\_CREATE\_DATE\\-FIELD\_TYPE\_ID\\-FIELD\_LANG\\-FIELD\_LAST\_UPDATE\\-FIELD\_ID\\-FIELD\_DEFAULT\\\_LANG};
\node[lbl] (l82) at (5203,1750) {\#\$active\_plugins\\\#\$lang\_records\_assigned};
\node[lbl] (l83) at (3626,3500) {\#\$user};
\node[lbl] (l84) at (540,2960) {\#\$lng};
\node[lbl] (l85) at (132,2040) {\#\$lang\_records\_available};
\node[lbl] (l86) at (4890,1620) {-\$objectList};

\end{tikzpicture}
\end{document}
